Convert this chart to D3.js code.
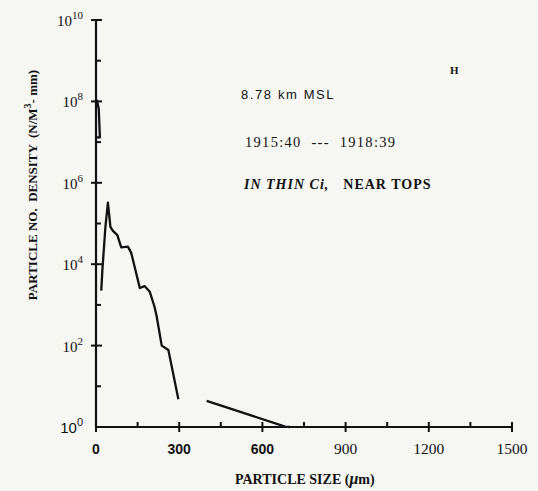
<!DOCTYPE html>
<html>
<head>
<meta charset="utf-8">
<script src="https://cdn.jsdelivr.net/npm/d3@7"></script>
<style>
  body { margin: 0; background: #f6f6f3; }
  svg { display: block; }
  .axis path, .axis line { stroke: #111; }
  .seg { fill: none; stroke: #111; stroke-width: 2.3; stroke-linejoin: round; }
</style>
</head>
<body>
<div id="chart"></div>
<script>
// particle size (um) vs density (N/m^3-mm), three traced pieces
var seg1 = [[3, 1.1e8], [10, 6.5e7], [14, 1.3e7], [3, 1.3e7]];
var seg2 = [[19, 2240], [23, 7200], [34, 83000], [43, 324000], [52, 83000], [61, 66000],
            [77, 52000], [91, 26000], [115, 27000], [127, 19000], [158, 2600], [175, 2900],
            [194, 2100], [211, 900], [219, 510], [237, 100], [261, 78], [297, 4.8]];
var seg3 = [[399, 4.4], [682, 1.02], [700, 1.0]];

var xMajor = [0, 300, 600, 900, 1200, 1500];
var xMinor = [150, 450, 750, 1050, 1350];
var yMajor = [0, 2, 4, 6, 8, 10];   // exponents
var yMinor = [1, 3, 5, 7, 9];

var width = 538, height = 491;

var svg = d3.select('#chart')
    .append('svg')
    .attr('width', width)
    .attr('height', height);

var x = d3.scaleLinear().domain([0, 1500]).range([96, 512]);
var y = d3.scaleLog().domain([1, 1e10]).range([427, 20]);

// x axis
var xAxis = svg.append('g')
    .attr('class', 'axis')
    .attr('transform', 'translate(0,' + y(1) + ')');
xAxis.append('line').attr('x1', x(0)).attr('x2', x(1500)).attr('stroke-width', 2.2);
xAxis.selectAll('.maj').data(xMajor).enter().append('line')
    .attr('x1', function(d) { return x(d) }).attr('x2', function(d) { return x(d) })
    .attr('y1', -5).attr('y2', 5).attr('stroke-width', 2);
xAxis.selectAll('.min').data(xMinor).enter().append('line')
    .attr('x1', function(d) { return x(d) }).attr('x2', function(d) { return x(d) })
    .attr('y1', -5).attr('y2', 0).attr('stroke-width', 2);
xAxis.selectAll('.lab').data(xMajor).enter().append('text')
    .attr('x', function(d) { return x(d) })
    .attr('y', 27)
    .attr('text-anchor', 'middle')
    .attr('font-family', function(d) { return d <= 600 ? 'Liberation Sans, Arial, sans-serif' : 'Liberation Serif, Times New Roman, serif' })
    .attr('font-weight', function(d) { return d <= 600 ? 'bold' : 'normal' })
    .attr('font-size', function(d) { return d <= 600 ? 14 : 15.5 })
    .attr('fill', '#111')
    .text(function(d) { return d });

// y axis
var yAxis = svg.append('g')
    .attr('class', 'axis')
    .attr('transform', 'translate(' + x(0) + ',0)');
yAxis.append('line').attr('y1', y(1)).attr('y2', y(1e10)).attr('stroke-width', 2.2);
yAxis.selectAll('.maj').data(yMajor).enter().append('line')
    .attr('y1', function(d) { return y(Math.pow(10, d)) }).attr('y2', function(d) { return y(Math.pow(10, d)) })
    .attr('x1', function(d) { return d == 0 ? 0 : -5 }).attr('x2', 6).attr('stroke-width', 2);
yAxis.selectAll('.min').data(yMinor).enter().append('line')
    .attr('y1', function(d) { return y(Math.pow(10, d)) }).attr('y2', function(d) { return y(Math.pow(10, d)) })
    .attr('x1', 0).attr('x2', 5).attr('stroke-width', 2);
var ylab = yAxis.selectAll('.lab').data(yMajor).enter().append('text')
    .attr('x', -13)
    .attr('y', function(d) { return y(Math.pow(10, d)) + 6 })
    .attr('text-anchor', 'end')
    .attr('font-family', function(d) { return d == 0 ? 'Liberation Sans, Arial, sans-serif' : 'Liberation Serif, Times New Roman, serif' })
    .attr('font-size', 15)
    .attr('fill', '#111');
ylab.append('tspan').text('10');
ylab.append('tspan').attr('dy', -7).attr('font-size', 11).text(function(d) { return d });

// data
var line = d3.line()
    .x(function(d) { return x(d[0]) })
    .y(function(d) { return y(d[1]) });

[seg1, seg2, seg3].forEach(function(s) {
    svg.append('path').attr('class', 'seg').attr('d', line(s));
});

// annotations
svg.append('text').attr('x', 450).attr('y', 74)
    .attr('font-family', 'Liberation Serif, serif').attr('font-weight', 'bold')
    .attr('font-size', 11).attr('fill', '#111').text('H');
svg.append('text').attr('x', 241).attr('y', 99)
    .attr('font-family', 'Liberation Sans, Arial, sans-serif')
    .attr('font-size', 13).attr('letter-spacing', 1.6).attr('fill', '#111').text('8.78 km MSL');
svg.append('text').attr('x', 245).attr('y', 147)
    .attr('font-family', 'Liberation Serif, serif')
    .attr('font-size', 14.5).attr('letter-spacing', 1.3).attr('fill', '#111').attr('xml:space', 'preserve')
    .text('1915:40  ---  1918:39');
var note = svg.append('text').attr('x', 244).attr('y', 189)
    .attr('font-family', 'Liberation Serif, serif').attr('font-weight', 'bold')
    .attr('font-size', 14).attr('letter-spacing', 1.0).attr('fill', '#111');
note.append('tspan').attr('font-style', 'italic').text('IN THIN Ci,');
note.append('tspan').attr('dx', 14).text('NEAR TOPS');

// axis titles
var xt = svg.append('text').attr('x', 235).attr('y', 484)
    .attr('font-family', 'Liberation Serif, serif').attr('font-weight', 'bold')
    .attr('font-size', 14).attr('fill', '#111');
xt.append('tspan').text('PARTICLE SIZE  (');
xt.append('tspan').attr('font-style', 'italic').attr('font-size', 16).text('\u03bc');
xt.append('tspan').text('m)');

var yt = svg.append('text')
    .attr('transform', 'translate(37,185) rotate(-90)')
    .attr('text-anchor', 'middle')
    .attr('font-family', 'Liberation Serif, serif').attr('font-weight', 'bold')
    .attr('font-size', 13).attr('fill', '#111').attr('xml:space', 'preserve');
yt.append('tspan').text('PARTICLE NO.  DENSITY  (N/M');
yt.append('tspan').attr('dy', -6).attr('font-size', 10).text('3');
yt.append('tspan').attr('dy', 6).text('- mm)');
</script>
</body>
</html>
